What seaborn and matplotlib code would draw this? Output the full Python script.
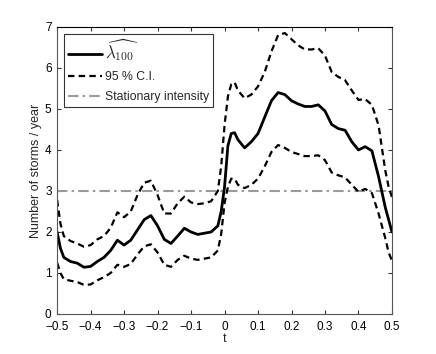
import numpy as np
import pandas as pd
import matplotlib
matplotlib.use('Agg')
import matplotlib.pyplot as plt
import seaborn as sns

# values
t = [-0.50, -0.49, -0.48, -0.46, -0.44, -0.42, -0.40, -0.38, -0.36, -0.34,
     -0.32, -0.30, -0.28, -0.26, -0.24, -0.22, -0.20, -0.18, -0.16, -0.14,
     -0.12, -0.10, -0.08, -0.06, -0.04, -0.02, -0.01, 0.00, 0.01, 0.02,
     0.03, 0.04, 0.06, 0.08, 0.10, 0.12, 0.14, 0.16, 0.18, 0.20,
     0.22, 0.24, 0.26, 0.28, 0.30, 0.32, 0.34, 0.36, 0.38, 0.40,
     0.42, 0.44, 0.46, 0.48, 0.49, 0.50]

lam = [2.00, 1.60, 1.38, 1.28, 1.24, 1.14, 1.16, 1.28, 1.38, 1.55,
       1.80, 1.68, 1.80, 2.05, 2.30, 2.40, 2.15, 1.82, 1.72, 1.90,
       2.09, 2.00, 1.94, 1.97, 2.00, 2.15, 2.50, 3.10, 4.10, 4.40,
       4.42, 4.25, 4.05, 4.20, 4.40, 4.80, 5.20, 5.40, 5.35, 5.20,
       5.12, 5.06, 5.06, 5.10, 4.95, 4.62, 4.52, 4.48, 4.20, 4.00,
       4.08, 3.98, 3.35, 2.60, 2.30, 2.00]

ci_upper = [2.78, 2.20, 1.90, 1.78, 1.72, 1.64, 1.68, 1.82, 1.90, 2.10,
            2.48, 2.36, 2.50, 2.90, 3.20, 3.25, 2.90, 2.45, 2.45, 2.70,
            2.86, 2.72, 2.68, 2.70, 2.75, 3.00, 3.60, 4.60, 5.30, 5.60,
            5.65, 5.45, 5.26, 5.35, 5.55, 5.90, 6.40, 6.80, 6.85, 6.70,
            6.55, 6.45, 6.45, 6.48, 6.30, 5.90, 5.78, 5.70, 5.45, 5.22,
            5.24, 5.10, 4.60, 3.50, 3.10, 2.85]

ci_lower = [1.25, 1.00, 0.85, 0.81, 0.78, 0.71, 0.72, 0.82, 0.90, 1.00,
            1.20, 1.15, 1.22, 1.45, 1.65, 1.70, 1.50, 1.20, 1.15, 1.32,
            1.42, 1.35, 1.32, 1.35, 1.38, 1.55, 1.95, 2.70, 3.10, 3.30,
            3.30, 3.15, 3.07, 3.15, 3.30, 3.60, 3.95, 4.12, 4.05, 3.95,
            3.90, 3.85, 3.85, 3.87, 3.75, 3.45, 3.38, 3.33, 3.15, 2.98,
            3.05, 2.95, 2.45, 1.85, 1.50, 1.30]

stationary = 3.0

x_ticks = [-0.5, -0.4, -0.3, -0.2, -0.1, 0, 0.1, 0.2, 0.3, 0.4, 0.5]
x_ticklabels = ['\u22120.5', '\u22120.4', '\u22120.3', '\u22120.2', '\u22120.1',
                '0', '0.1', '0.2', '0.3', '0.4', '0.5']
y_ticks = [0, 1, 2, 3, 4, 5, 6, 7]

df = pd.DataFrame({'t': t, 'lam': lam, 'up': ci_upper, 'lo': ci_lower})

sns.set_style('ticks')
plt.rcParams['font.family'] = ['Liberation Sans', 'DejaVu Sans']
plt.rcParams['mathtext.fontset'] = 'cm'

fig = plt.figure(figsize=(4.36, 3.54), dpi=100)
ax = fig.add_axes([0.131, 0.113, 0.768, 0.811])

sns.lineplot(data=df, x='t', y='lam', color='black', lw=2.0, ax=ax,
             label=r'$\widehat{\lambda_{100}}$')
sns.lineplot(data=df, x='t', y='up', color='black', lw=1.6, ax=ax,
             dashes=False, label='95 % C.I.')
sns.lineplot(data=df, x='t', y='lo', color='black', lw=1.6, ax=ax)
for ln in ax.lines[1:]:
    ln.set_dashes((2.9, 1.9))
ax.axhline(stationary, color='#9a9a9a', lw=1.5, dashes=(5, 2, 1.2, 2),
           label='Stationary intensity', zorder=1)

ax.set_xlim(-0.5, 0.5)
ax.set_ylim(0, 7)
ax.set_xticks(x_ticks)
ax.set_xticklabels(x_ticklabels)
ax.set_yticks(y_ticks)
ax.tick_params(direction='in', length=3, width=0.8, labelsize=8.5,
               top=True, right=True, colors='#333333', labelcolor='black')
ax.tick_params(axis='x', pad=5)
ax.tick_params(axis='y', pad=4)
for s in ax.spines.values():
    s.set_linewidth(0.8)
    s.set_color('#555555')
ax.spines['top'].set_color('black')

ax.set_xlabel('t', fontsize=9, labelpad=0)
ax.set_ylabel('Number of storms / year', fontsize=9, labelpad=2)

handles, labels = ax.get_legend_handles_labels()
leg = ax.legend(handles[:3], labels[:3], loc='upper left', fontsize=8.8,
                frameon=True, fancybox=False, handlelength=2.8,
                handletextpad=0.3, borderpad=0.3, labelspacing=0.65,
                borderaxespad=0.55)
leg.get_texts()[0].set_fontsize(12)
leg.get_frame().set_edgecolor('black')
leg.get_frame().set_linewidth(0.8)

fig.savefig('out.png', dpi=100)
